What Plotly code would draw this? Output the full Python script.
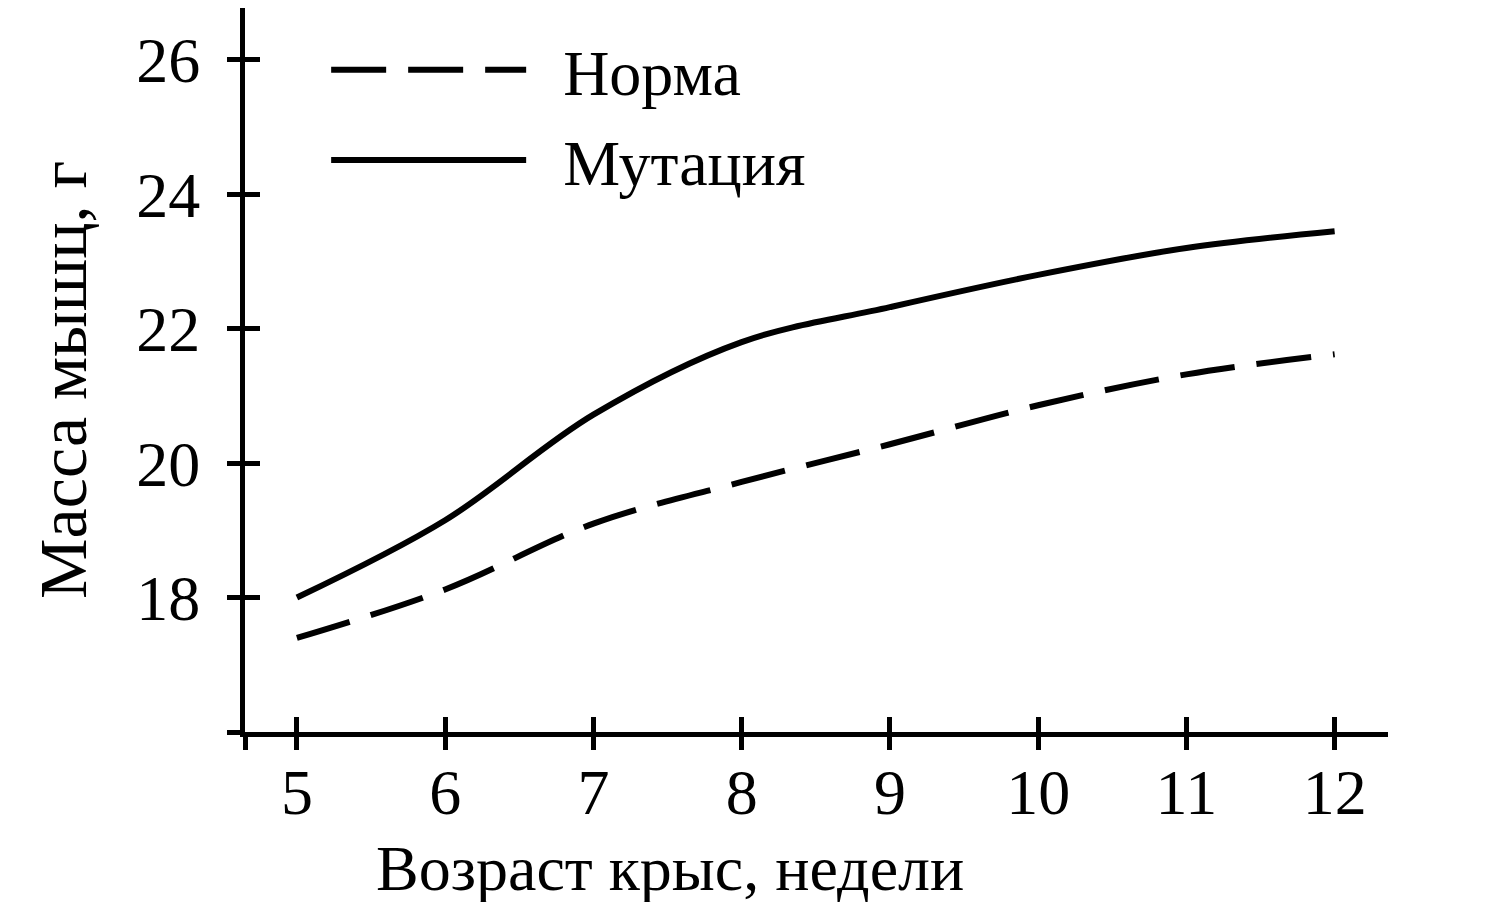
import plotly.graph_objects as go

# возраст, недели
weeks = [5, 6, 7, 8, 9, 10, 11, 12]
# масса, г
norma = [17.4, 18.12, 19.1, 19.72, 20.28, 20.86, 21.32, 21.62]
mutation = [18.0, 19.15, 20.72, 21.8, 22.32, 22.8, 23.2, 23.45]

x_ticks = [5, 6, 7, 8, 9, 10, 11, 12]
y_ticks = [18, 20, 22, 24, 26]

x_range = [4.65, 12.36]
y_range = [16, 26.77]

font_name = "Liberation Serif"

fig = go.Figure()

fig.add_trace(go.Scatter(
    x=weeks, y=norma, name="\u2002Норма", mode="lines", legendgroup="a",
    line=dict(color="black", width=6, dash="55px,22px", shape="spline", smoothing=1.0),
))
fig.add_trace(go.Scatter(
    x=weeks, y=mutation, name="\u2002Мутация", mode="lines", legendgroup="b",
    line=dict(color="black", width=6, shape="spline", smoothing=1.0),
))

# ticks crossing the axis: inside on the main axes (with labels),
# outside on the overlay axes
fig.update_layout(
    width=1500, height=902,
    margin=dict(l=237, r=120, t=0, b=178),
    plot_bgcolor="white", paper_bgcolor="white",
    font=dict(family=font_name, size=64, color="black"),
    showlegend=True,
    legend=dict(
        x=0.071, y=0.981, xanchor="left", yanchor="top",
        bgcolor="rgba(0,0,0,0)", itemwidth=195,
        traceorder="grouped", tracegroupgap=4,
        font=dict(family=font_name, size=64, color="black"),
    ),
    xaxis=dict(
        range=x_range, showgrid=False, zeroline=False,
        showline=True, linecolor="black", linewidth=5,
        tickmode="array", tickvals=x_ticks,
        ticktext=[str(v) for v in x_ticks],
        ticks="inside", ticklen=15, tickwidth=5, tickcolor="black",
        ticklabelstandoff=0,
    ),
    yaxis=dict(
        range=y_range, showgrid=False, zeroline=False,
        showline=True, linecolor="black", linewidth=5,
        tickmode="array", tickvals=y_ticks,
        ticktext=[str(v) for v in y_ticks],
        ticks="inside", ticklen=15, tickwidth=5, tickcolor="black",
        ticklabelstandoff=27,
    ),
    xaxis2=dict(
        range=x_range, overlaying="x", showgrid=False, zeroline=False,
        showline=False, tickmode="array", tickvals=[x_range[0]] + x_ticks,
        ticks="outside", ticklen=17, tickwidth=5, tickcolor="black",
        showticklabels=False,
    ),
    yaxis2=dict(
        range=y_range, overlaying="y", showgrid=False, zeroline=False,
        showline=False, tickmode="array", tickvals=[y_range[0]] + y_ticks,
        ticks="outside", ticklen=17, tickwidth=5, tickcolor="black",
        showticklabels=False,
    ),
)

# invisible trace so the overlay axes are drawn
fig.add_trace(go.Scatter(x=[x_range[0]], y=[y_range[0]], xaxis="x2", yaxis="y2",
                         mode="markers", marker=dict(opacity=0), showlegend=False,
                         hoverinfo="skip"))

fig.add_annotation(
    text="Возраст крыс, недели", xref="paper", yref="paper",
    x=0.113, y=-0.188, xanchor="left", yanchor="middle", showarrow=False,
    font=dict(family=font_name, size=64, color="black"),
)
fig.add_annotation(
    text="Масса мышц, г", xref="paper", yref="paper",
    x=-0.1594, y=0.486, xanchor="center", yanchor="middle", showarrow=False,
    textangle=-90, font=dict(family=font_name, size=68, color="black"),
)

fig.write_html("out.html")
